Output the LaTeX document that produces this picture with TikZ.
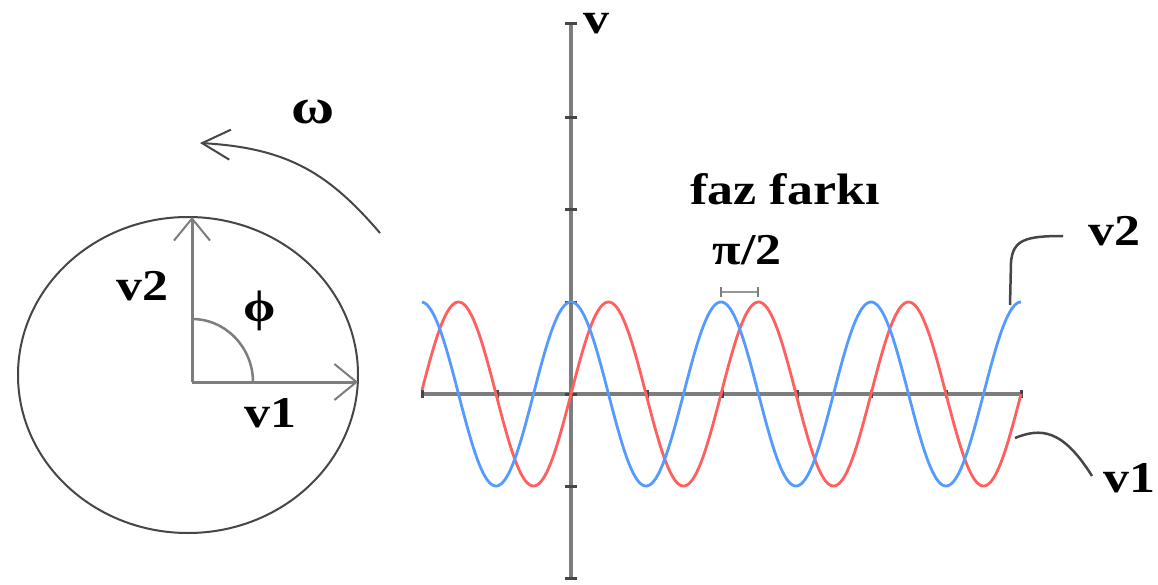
\documentclass[tikz,border=0pt]{standalone}
\usepackage{graphicx}
\usepackage{fontspec}
\setmainfont{Liberation Serif}
\usetikzlibrary{arrows.meta}
\definecolor{redc}{RGB}{255,95,95}
\definecolor{bluec}{RGB}{85,155,255}
\definecolor{axisc}{RGB}{125,125,125}
\definecolor{inkc}{RGB}{70,70,70}
\newcommand\wdtxt[1]{\scalebox{1.18}[1]{#1}}
\begin{document}
\begin{tikzpicture}[x=1pt,y=-1pt,
  lbl/.style={font=\fontsize{44}{48}\selectfont\bfseries, inner sep=0pt},
  vecline/.style={line width=3pt, draw=axisc, -{Straight Barb[length=22pt,width=36pt,line width=2pt]}},
  axisline/.style={line width=4pt, draw=axisc},
  tickm/.style={line width=3pt, draw=inkc},
  leader/.style={line width=2.5pt, draw=inkc},
  wave/.style={line width=2.8pt, domain=422:1021, samples=400, smooth}]
\useasboundingbox (0,0) rectangle (1158,585);
\fill[white] (0,0) rectangle (1158,585);

% ---- phasor diagram ----
\coordinate (O) at (192,382);
\coordinate (v2tip) at (192,217);
\coordinate (v1tip) at (358,382);
\draw[line width=2pt, draw=inkc] (188,375) ellipse [x radius=170pt, y radius=158pt];
\draw[vecline] (O) -- (v2tip);
\draw[vecline] (O) -- (v1tip);
\coordinate (phiA) at (192,319);
\coordinate (phiB) at (253,382);
\draw[line width=2.5pt, draw=axisc] (phiA) .. controls (226,319) and (253,348) .. (phiB);
\node[lbl, anchor=base] (lv2) at (142,300) {\wdtxt{v2}};
\node[lbl] (lphi) at (260,311) {\wdtxt{ϕ}};
\node[lbl, anchor=base] (lv1) at (270,427) {\wdtxt{v1}};
\node[lbl, font=\fontsize{50}{54}\selectfont\bfseries] (lomega) at (313,112) {\wdtxt{ω}};
\coordinate (wS) at (380,233);
\coordinate (wE) at (200,143);
\draw[line width=2pt, draw=inkc, -{Straight Barb[length=28pt,width=30pt,line width=2pt]}] (wS) .. controls (330,175) and (290,148) .. (wE);

% ---- axes ----
\coordinate (yTop) at (571,23);
\coordinate (yBot) at (571,578);
\coordinate (xL) at (422,394);
\coordinate (xR) at (1021,394);
\draw[axisline] (yBot) -- (yTop);
\draw[axisline] (xL) -- (xR);
\foreach \ty in {24,118,210,302,394,486,578}
  \draw[tickm] (565,\ty) -- (577,\ty);
\foreach \tx in {422,497,647,722,797,871,946,1021}
  \draw[tickm] (\tx,390) -- (\tx,398);
\node[lbl, anchor=base] (lv) at (596,34) {\wdtxt{v}};

% ---- waves ----
\draw[wave, draw=redc] plot (\x, {394 - 92*sin(2.4*(\x-571))});
\draw[wave, draw=bluec] plot (\x, {394 - 92*cos(2.4*(\x-571))});

% ---- phase difference ----
\node[lbl, anchor=base] (lfaz) at (785,205) {\wdtxt{faz farkı}};
\node[lbl, anchor=base] (lpi) at (747,264) {\wdtxt{π/2}};
\coordinate (pA) at (721,292);
\coordinate (pB) at (758,292);
\draw[line width=2.5pt, draw=axisc!80] (pA) -- (pB);
\draw[line width=2pt, draw=axisc] (721,287) -- (721,297) (758,287) -- (758,297);

% ---- leaders ----
\coordinate (b2) at (1010,305);
\coordinate (b1) at (1015,438);
\node[lbl, anchor=base] (rv2) at (1114,245) {\wdtxt{v2}};
\node[lbl, anchor=base] (rv1) at (1129,492) {\wdtxt{v1}};
\draw[leader] (b2) -- (1011,262) .. controls (1013,240) and (1025,236) .. (1063,236);
\draw[leader] (b1) .. controls (1040,428) and (1062,428) .. (1092,476);
\end{tikzpicture}
\end{document}
